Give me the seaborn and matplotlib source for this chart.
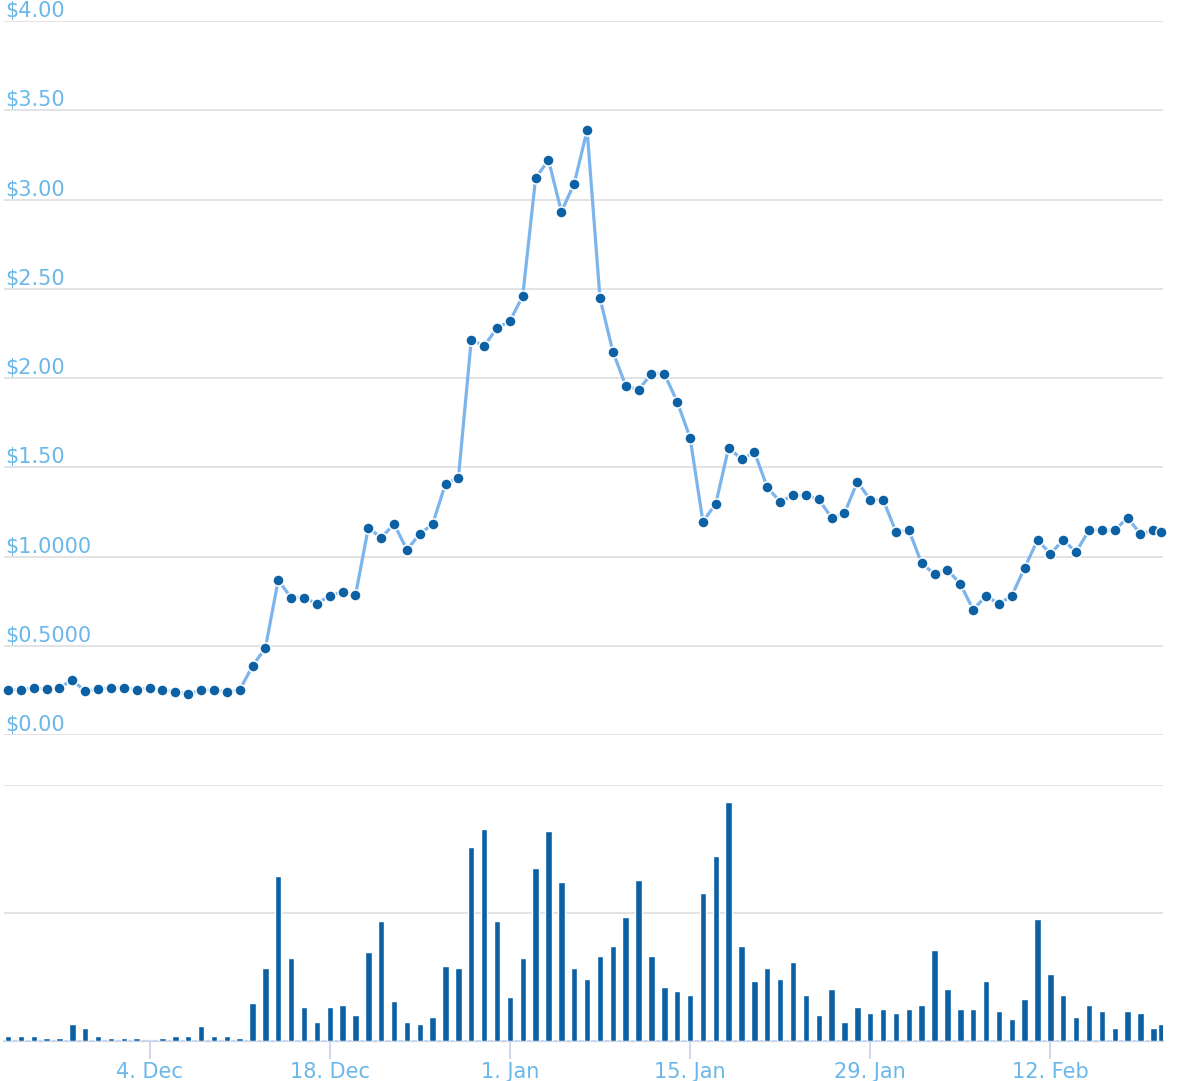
import matplotlib
matplotlib.use("Agg")
import matplotlib.pyplot as plt
import matplotlib.dates as mdates
import numpy as np
import pandas as pd
import seaborn as sns

# daily points 23 Nov 2017 .. 20 Feb 2018, plus one partial day at the end
days = list(pd.date_range("2017-11-23", "2018-02-20", freq="D")) + [pd.Timestamp("2018-02-20 15:00")]

price = [
    0.252, 0.252, 0.265, 0.256, 0.265, 0.308, 0.245, 0.256, 0.265, 0.265, 0.252,
    0.265, 0.254, 0.241, 0.230, 0.252, 0.252, 0.243, 0.252, 0.387, 0.487,
    0.868, 0.769, 0.769, 0.736, 0.780, 0.801, 0.782, 1.161, 1.105, 1.182, 1.038,
    1.126, 1.182, 1.408, 1.440,
    2.215, 2.179, 2.280, 2.318, 2.461, 3.120, 3.221, 2.932, 3.089, 3.389, 2.448,
    2.148, 1.957, 1.934, 2.024, 2.024, 1.867,
    1.666, 1.195, 1.296, 1.610, 1.545, 1.585, 1.388, 1.307, 1.343, 1.343, 1.320,
    1.217, 1.242, 1.419, 1.318, 1.318, 1.139,
    1.148, 0.961, 0.902, 0.926, 0.846, 0.702, 0.780, 0.734, 0.780, 0.937, 1.092,
    1.016, 1.092, 1.025, 1.148, 1.148, 1.148, 1.217, 1.126, 1.148, 1.137,
]

volume = [
    2.0, 2.0, 2.0, 1.2, 1.2, 6.8, 5.2, 2.0, 1.2, 1.2, 1.2, 0.0, 1.2, 2.0, 2.0,
    6.0, 2.0, 2.0, 1.2, 14.8, 28.4, 64.4, 32.4, 13.2, 7.6, 13.2, 14.0, 10.0,
    34.8, 46.8, 15.6,
    7.6, 6.8, 9.2, 29.2, 28.4, 75.6, 82.8, 46.8, 17.2, 32.4, 67.6, 82.0, 62.0,
    28.4, 24.4, 33.2, 37.2, 48.4, 62.8, 33.2, 21.2, 19.6, 18.0, 58.0, 72.4,
    93.2, 37.2, 23.6, 28.4, 24.4,
    30.8, 18.0, 10.0, 20.4, 7.6, 13.2, 10.8, 12.4, 10.8, 12.4, 14.0, 35.6, 20.4,
    12.4, 12.4, 23.6, 11.6, 8.4, 16.4, 47.6, 26.0, 18.0, 9.2, 14.0, 11.6, 5.2,
    11.6, 10.8, 5.2, 6.8,
]

price_ticks = [0.0, 0.5, 1.0, 1.5, 2.0, 2.5, 3.0, 3.5, 4.0]
price_labels = ["$0.00", "$0.5000", "$1.0000", "$1.50", "$2.00", "$2.50",
                "$3.00", "$3.50", "$4.00"]
date_ticks = ["2017-12-04", "2017-12-18", "2018-01-01", "2018-01-15",
              "2018-01-29", "2018-02-12"]

LINE = "#7cb5ec"
DARK = "#0c61a4"
LABEL = "#6ab7e9"
GRID = "#e3e3e3"
AXIS = "#ccd6eb"

sns.set_style("white")
plt.rcParams["font.family"] = ["DejaVu Sans"]

df = pd.DataFrame({"x": mdates.date2num(days), "price": price, "volume": volume})

W, H = 1184, 1081
fig = plt.figure(figsize=(W / 100, H / 100), dpi=100)
ax_p = fig.add_axes([4 / W, 1 - 735 / H, 1159 / W, (735 - 21) / H])
ax_v = fig.add_axes([4 / W, 1 - 1041 / H, 1159 / W, (1041 - 785) / H], sharex=ax_p)

x0 = mdates.date2num(pd.Timestamp("2017-11-23"))
xlim = (x0 - 0.31, x0 + 89.75)

# price panel
sns.lineplot(data=df, x="x", y="price", ax=ax_p, color=LINE, lw=2.3)
sns.scatterplot(data=df, x="x", y="price", ax=ax_p, color=DARK, s=64,
                edgecolor="white", linewidth=1.1, clip_on=False, zorder=3)
ax_p.set_ylim(0, 4)
ax_p.set_yticks(price_ticks)
ax_p.grid(axis="y", color=GRID, lw=1.4)
ax_p.set_axisbelow(True)
ax_p.tick_params(left=False, labelleft=False, bottom=False, labelbottom=False)
for v, lab in zip(price_ticks, price_labels):
    ax_p.annotate(lab, xy=(0, v), xycoords=("axes fraction", "data"),
                  xytext=(1, 2.8), textcoords="offset points",
                  ha="left", va="baseline", color=LABEL, fontsize=15)
for s in ax_p.spines.values():
    s.set_visible(False)
ax_p.set_xlabel("")
ax_p.set_ylabel("")

# volume panel
ax_v.bar(df["x"], df["volume"], width=0.5, color=DARK, zorder=3)
ax_v.set_ylim(0, 100)
ax_v.set_yticks([0, 50, 100])
ax_v.grid(axis="y", color=GRID, lw=1.4)
ax_v.set_axisbelow(True)
ax_v.tick_params(left=False, labelleft=False)
for name, s in ax_v.spines.items():
    s.set_visible(name == "bottom")
ax_v.spines["bottom"].set_color(AXIS)
ax_v.spines["bottom"].set_linewidth(1.6)
ax_v.set_xticks(mdates.date2num(pd.to_datetime(date_ticks)))
ax_v.xaxis.set_major_formatter(mdates.DateFormatter("%-d. %b"))
ax_v.tick_params(axis="x", bottom=True, length=13, width=1.3, color=AXIS,
                 pad=2, labelsize=15, labelcolor=LABEL)
ax_v.set_xlim(*xlim)
ax_v.set_xlabel("")
ax_v.set_ylabel("")

fig.savefig("out.png", dpi=100)
